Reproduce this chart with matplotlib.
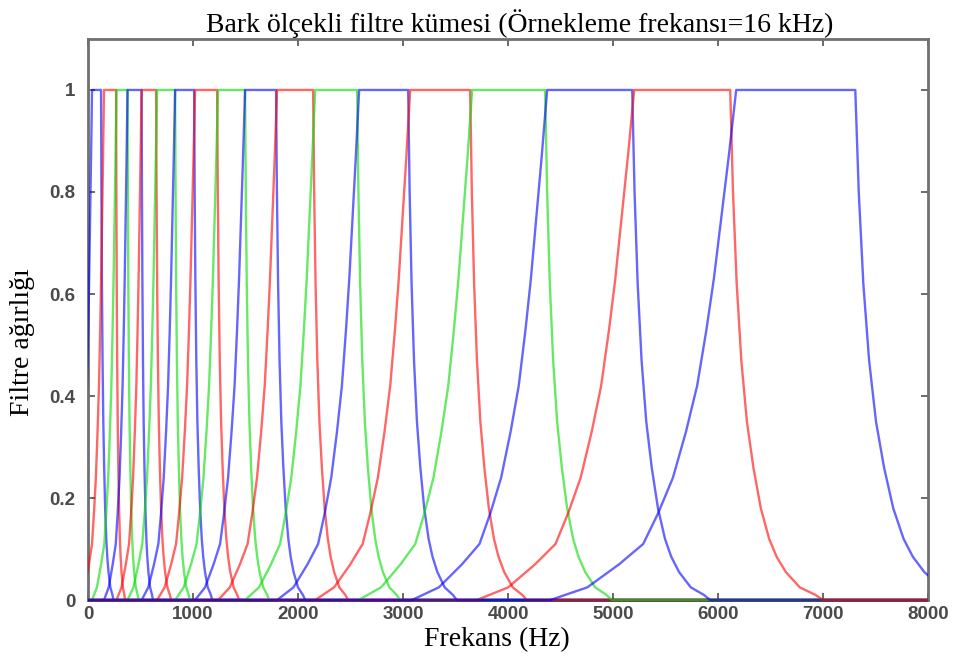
import numpy as np
import matplotlib
matplotlib.use("Agg")
import matplotlib.pyplot as plt
from matplotlib.transforms import Bbox, TransformedBbox

# Bark filter bank, 16 kHz sampling -> 0..8000 Hz
# per filter edges in Hz (left to right)
zero_start = [-190, -76, 38, 152, 271, 376, 510, 657, 829, 1019, 1238, 1495,
              1800, 2162, 2574, 3083, 3701, 4400]
flat_start = [38, 152, 271, 376, 510, 657, 829, 1019, 1238, 1495, 1800, 2162,
              2581, 3067, 3657, 4371, 5200, 6171]
flat_end = [124, 267, 376, 510, 648, 829, 1010, 1229, 1495, 1790, 2143, 2562,
            3048, 3638, 4352, 5181, 6114, 7305]
zero_end = [242, 353, 481, 618, 791, 970, 1183, 1438, 1725, 2068, 2476, 2971,
            3511, 4178, 4987, 5924, 6997, 8400]
filter_colors = ['b', 'r', 'g', 'b', 'r', 'g', 'b', 'r', 'g', 'b', 'r', 'g',
                 'b', 'r', 'g', 'b', 'r', 'b']

# skirt shape (fraction of skirt width -> weight), read from the wide filters
rise_frac = [0, 0.2, 0.37, 0.5, 0.58, 0.66, 0.73, 0.79, 0.84, 0.88, 0.92, 0.96, 1]
rise_w = [0, 0.025, 0.07, 0.11, 0.17, 0.24, 0.33, 0.42, 0.53, 0.63, 0.75, 0.87, 1]
fall_frac = [0, 0.03, 0.07, 0.12, 0.18, 0.25, 0.33, 0.42, 0.5, 0.6, 0.75, 0.92, 1]
fall_w = [1, 0.8, 0.62, 0.47, 0.35, 0.26, 0.18, 0.12, 0.085, 0.055, 0.025, 0.01, 0]

xticks = [0, 1000, 2000, 3000, 4000, 5000, 6000, 7000, 8000]
yticks = [0, 0.2, 0.4, 0.6, 0.8, 1]
ytick_labels = ['0', '0.2', '0.4', '0.6', '0.8', '1']

COLORS = {'b': '#0000ff', 'r': '#ff0000', 'g': '#00dd00'}


def filter_curve(i):
    z, s, t, r = zero_start[i], flat_start[i], flat_end[i], zero_end[i]
    x_up = [z + f * (s - z) for f in rise_frac]
    x_dn = [t + f * (r - t) for f in fall_frac]
    x = [-2000] + x_up + x_dn + [10000]
    w = [0] + rise_w + fall_w + [0]
    return x, w


fig = plt.figure(figsize=(9.57, 6.66), dpi=100)
ax = fig.add_axes([0.092, 0.099, 0.878, 0.8425])

# let the zero line sit on top of the bottom spine (like MATLAB)
clip = TransformedBbox(Bbox([[0, -0.01], [1, 1]]), ax.transAxes)

for i in range(len(flat_start)):
    x, w = filter_curve(i)
    ln, = ax.plot(x, w, color=COLORS[filter_colors[i]], alpha=0.6,
                  linewidth=1.7, zorder=3)
    ln.set_clip_box(clip)

ax.set_xlim(0, 8000)
ax.set_ylim(0, 1.1)
ax.set_xticks(xticks)
ax.set_xticklabels([str(v) for v in xticks])
ax.set_yticks(yticks)
ax.set_yticklabels(ytick_labels)

spine_col = '#707070'
for sp in ax.spines.values():
    sp.set_color(spine_col)
    sp.set_linewidth(2.0)
ax.tick_params(direction='in', length=5, width=1.2, color='#505050',
               top=True, right=True)
ax.tick_params(axis='y', pad=9)
ax.tick_params(axis='x', pad=4)
for lab in ax.get_xticklabels() + ax.get_yticklabels():
    lab.set_fontfamily('Liberation Sans')
    lab.set_fontweight('bold')
    lab.set_fontsize(13.5)
    lab.set_color('#4a4a4a')

serif = 'Liberation Serif'
ax.set_title('Bark ölçekli filtre kümesi (Örnekleme frekansı=16 kHz)',
             fontfamily=serif, fontsize=20, pad=5, x=0.514)
ax.set_xlabel('Frekans (Hz)', fontfamily=serif, fontsize=20, labelpad=0)
ax.xaxis.set_label_coords(0.487, -0.048)
ax.xaxis.label.set_va('top')
ax.set_ylabel('Filtre ağırlığı', fontfamily=serif, fontsize=20)
ax.yaxis.set_label_coords(-0.063, 0.46)

fig.savefig('out.png', dpi=100, facecolor='white')
